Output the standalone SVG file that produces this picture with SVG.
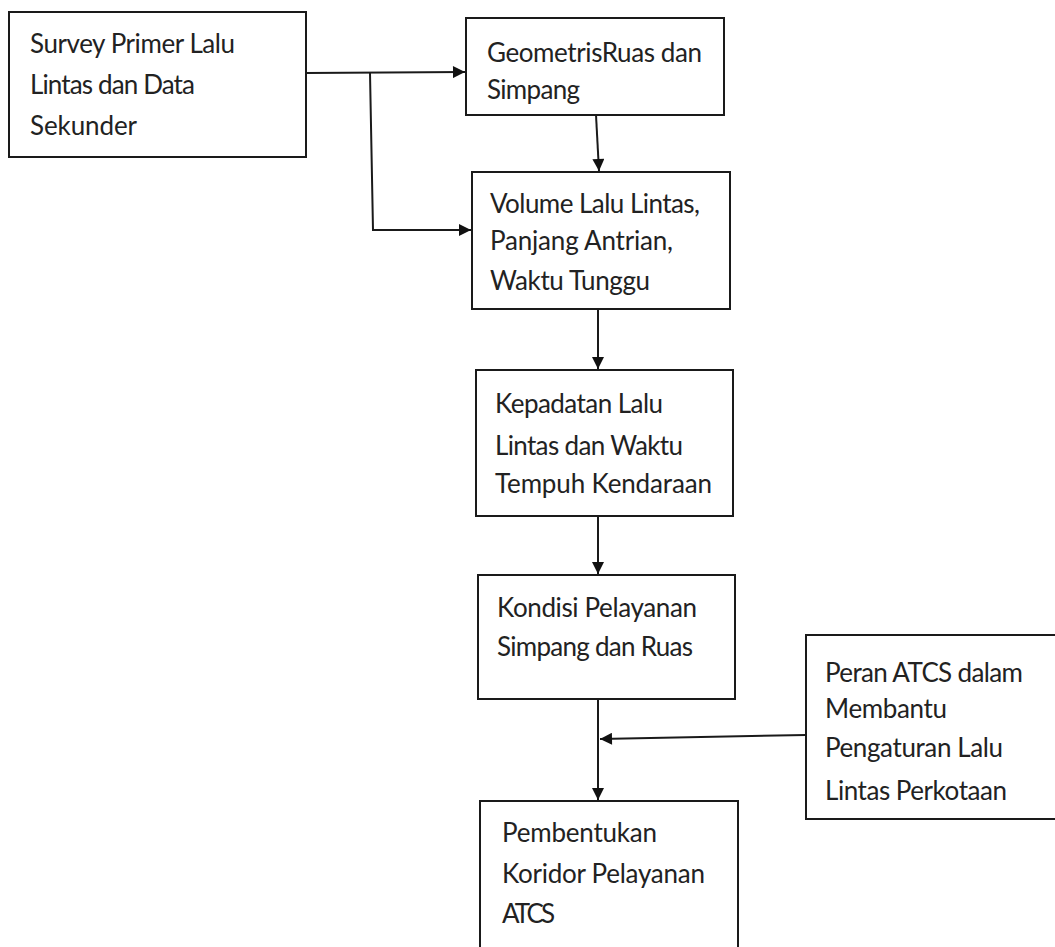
<svg xmlns="http://www.w3.org/2000/svg" width="1055" height="947" viewBox="0 0 1055 947">
<defs>
<style>
.box{fill:#fff;stroke:#1a1a1a;stroke-width:2}
.t{font-family:Lato,"Liberation Sans",sans-serif;font-size:26px;fill:#222}
.c{fill:none;stroke:#1a1a1a;stroke-width:2}
</style>
<marker id="ah" viewBox="0 0 10 10" refX="10" refY="5" markerWidth="13" markerHeight="12" markerUnits="userSpaceOnUse" orient="auto">
<path d="M0,0 L10,5 L0,10 Z" fill="#111"/>
</marker>
</defs>
<rect width="1055" height="947" fill="#fff"/>
<g id="connectors">
<path class="c" d="M306,73 L465,72" marker-end="url(#ah)"/>
<path class="c" d="M370,73 L373,230 L471,230" marker-end="url(#ah)"/>
<path class="c" d="M596,115 L599,171" marker-end="url(#ah)"/>
<path class="c" d="M598,309 L598,369" marker-end="url(#ah)"/>
<path class="c" d="M598,516 L598,574" marker-end="url(#ah)"/>
<path class="c" d="M598,699 L598,800" marker-end="url(#ah)"/>
<path class="c" d="M806,735 L600,739" marker-end="url(#ah)"/>
</g>
<g id="n1">
<rect class="box" x="9" y="12" width="297" height="145"/>
<text class="t" x="30" y="53" textLength="205">Survey Primer Lalu</text>
<text class="t" x="30" y="94" textLength="165">Lintas dan Data</text>
<text class="t" x="30" y="135" textLength="107">Sekunder</text>
</g>
<g id="n2">
<rect class="box" x="466" y="18" width="258" height="97"/>
<text class="t" x="487" y="62" textLength="215">GeometrisRuas dan</text>
<text class="t" x="487" y="99" textLength="93">Simpang</text>
</g>
<g id="n3">
<rect class="box" x="472" y="172" width="258" height="137"/>
<text class="t" x="490" y="213" textLength="210">Volume Lalu Lintas,</text>
<text class="t" x="490" y="250" textLength="183">Panjang Antrian,</text>
<text class="t" x="490" y="290" textLength="160">Waktu Tunggu</text>
</g>
<g id="n4">
<rect class="box" x="476" y="370" width="257" height="146"/>
<text class="t" x="495" y="413" textLength="168">Kepadatan Lalu</text>
<text class="t" x="495" y="455" textLength="188">Lintas dan Waktu</text>
<text class="t" x="495" y="493" textLength="217">Tempuh Kendaraan</text>
</g>
<g id="n5">
<rect class="box" x="478" y="575" width="257" height="124"/>
<text class="t" x="497" y="617" textLength="200">Kondisi Pelayanan</text>
<text class="t" x="497" y="656" textLength="196">Simpang dan Ruas</text>
</g>
<g id="n6">
<rect class="box" x="806" y="635" width="260" height="184"/>
<text class="t" x="825" y="682" textLength="198">Peran ATCS dalam</text>
<text class="t" x="825" y="718" textLength="122">Membantu</text>
<text class="t" x="825" y="757" textLength="178">Pengaturan Lalu</text>
<text class="t" x="825" y="800" textLength="182">Lintas Perkotaan</text>
</g>
<g id="n7">
<rect class="box" x="480" y="801" width="258" height="160"/>
<text class="t" x="502" y="842" textLength="155">Pembentukan</text>
<text class="t" x="502" y="883" textLength="203">Koridor Pelayanan</text>
<text class="t" x="502" y="923" textLength="53">ATCS</text>
</g>
</svg>
